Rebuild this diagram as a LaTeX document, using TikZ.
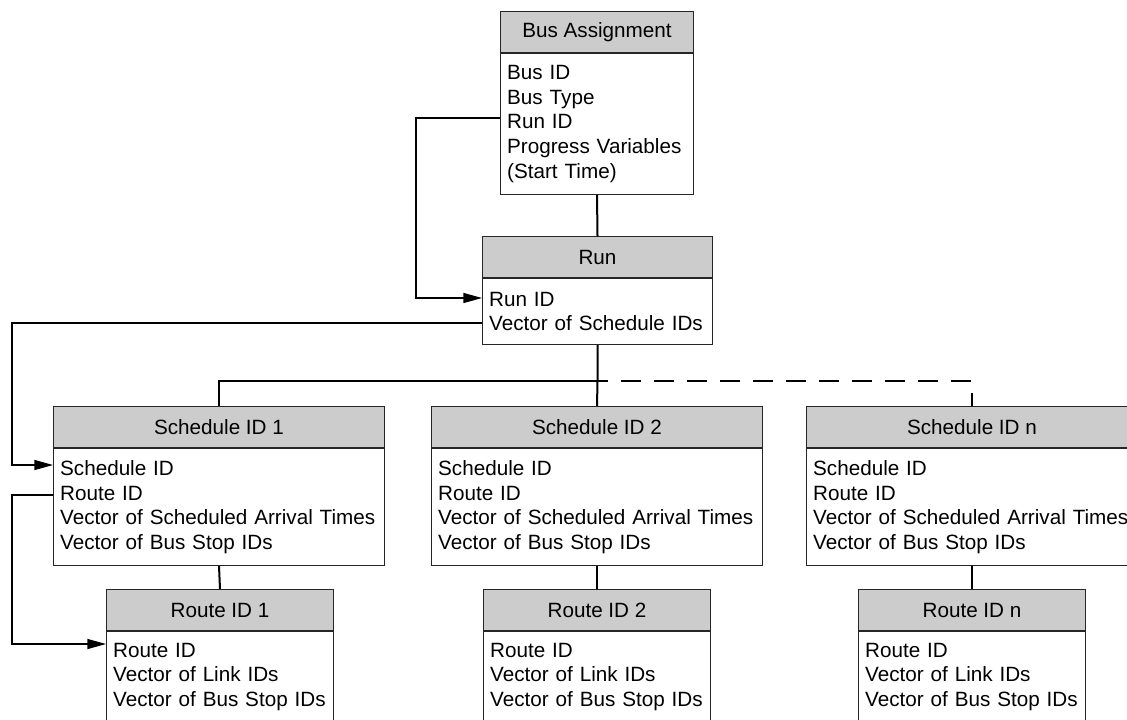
\documentclass[tikz,border=0pt]{standalone}
\usepackage{fontspec}
\setmainfont{Liberation Sans}
\usetikzlibrary{arrows.meta}

\tikzset{every picture/.style={line width=0.75pt}}
\tikzset{
  classhead/.style={draw=black!85, fill=black!20, anchor=north west, inner sep=0pt,
    minimum width=#1, minimum height=30.75pt, font=\fontsize{15.5}{18.4}\selectfont},
  classbody/.style n args={2}{draw=black!85, fill=white, anchor=north west, align=left,
    inner xsep=5pt, inner ysep=0pt, text width=#1, minimum height=#2,
    font=\fontsize{15.5}{18.4}\selectfont},
  link/.style={line width=1.5pt},
  dashlink/.style={line width=1.5pt, dash pattern=on 15pt off 9.75pt, dash phase=5.25pt},
  keyarrow/.style={line width=1pt, -{Triangle[length=14pt,width=7.5pt]}}
}

\begin{document}
\begin{tikzpicture}[x=0.75pt,y=0.75pt,yscale=-1,xscale=1]
\useasboundingbox (0,0) rectangle (1127,719);

%Shape: Bus Assignment
\node[classhead=144.75pt] (busH) at (500,11) {Bus Assignment};
\node[classbody={134.75pt}{105.75pt}] (busB) at (busH.south west) {Bus ID\\Bus Type\\Run ID\\Progress Variables\\(Start Time)};

%Shape: Run
\node[classhead=172.5pt] (runH) at (482,236) {Run};
\node[classbody={162.5pt}{49.5pt}] (runB) at (runH.south west) {Run ID\\Vector of Schedule IDs};

%Shape: Schedules
\node[classhead=248.25pt] (schAH) at (53,406) {Schedule ID 1};
\node[classbody={238.25pt}{87.75pt}] (schAB) at (schAH.south west) {Schedule ID\\Route ID\\Vector of Scheduled Arrival Times\\Vector of Bus Stop IDs};
\node[classhead=248.25pt] (schBH) at (431,406) {Schedule ID 2};
\node[classbody={238.25pt}{87.75pt}] (schBB) at (schBH.south west) {Schedule ID\\Route ID\\Vector of Scheduled Arrival Times\\Vector of Bus Stop IDs};
\node[classhead=248.25pt] (schNH) at (806,406) {Schedule ID n};
\node[classbody={238.25pt}{87.75pt}] (schNB) at (schNH.south west) {Schedule ID\\Route ID\\Vector of Scheduled Arrival Times\\Vector of Bus Stop IDs};

%Shape: Routes
\node[classhead=170.25pt] (rteAH) at (106,589) {Route ID 1};
\node[classbody={160.25pt}{68.25pt}] (rteAB) at (rteAH.south west) {Route ID\\Vector of Link IDs\\Vector of Bus Stop IDs};
\node[classhead=170.25pt] (rteBH) at (483,589) {Route ID 2};
\node[classbody={160.25pt}{68.25pt}] (rteBB) at (rteBH.south west) {Route ID\\Vector of Link IDs\\Vector of Bus Stop IDs};
\node[classhead=170.25pt] (rteNH) at (858,589) {Route ID n};
\node[classbody={160.25pt}{68.25pt}] (rteNB) at (rteNH.south west) {Route ID\\Vector of Link IDs\\Vector of Bus Stop IDs};

%Connectors
\coordinate (junc) at (runB.south |- 0,381);
\draw[link] (busB.south) -- (runH.north);
\draw[link] (runB.south) -- (junc) -- (schBH.north);
\draw[link] (schAH.north) |- (junc);
\draw[dashlink] (schNH.north) |- (junc);
\draw[link] (schAB.south) -- (rteAH.north);
\draw[link] (schBB.south) -- (rteBH.north);
\draw[link] (schNB.south) -- (rteNH.north);

%Key references
\draw[keyarrow] (busB.west |- 0,118) -- ++(-84,0) |- (runB.west |- 0,298);
\draw[keyarrow] (runB.west |- 0,323) -- ++(-470,0) |- (schAB.west |- 0,465);
\draw[keyarrow] (schAB.west |- 0,495) -- ++(-41,0) |- (rteAB.west |- 0,644);

\end{tikzpicture}
\end{document}
